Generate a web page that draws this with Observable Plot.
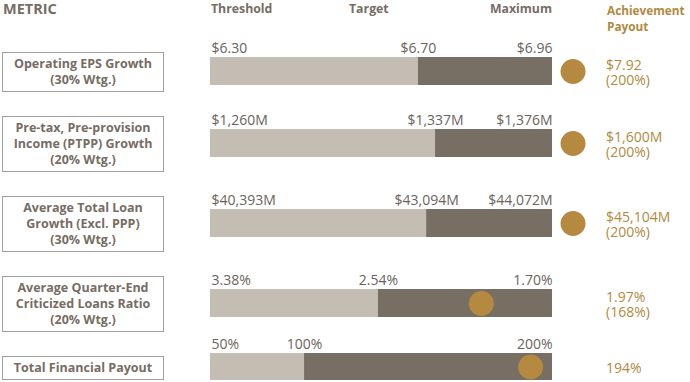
<!DOCTYPE html>
<html><head><meta charset="utf-8">
<script src="https://cdn.jsdelivr.net/npm/d3@7"></script>
<script src="https://cdn.jsdelivr.net/npm/@observablehq/plot@0.6"></script>
<style>
body{margin:0;background:#fff;}
#chart{position:relative;width:690px;height:382px;font-family:"Open Sans",sans-serif;overflow:hidden;}
.hdr{position:absolute;font-weight:700;font-size:12.3px;color:#766d65;line-height:17px;white-space:nowrap}
.row{position:relative;width:690px;}
.box{position:absolute;left:2px;width:160px;border:1px solid #a0a0a0;padding:3px 0;line-height:16px;font-weight:700;font-size:12.5px;color:#776c63;text-align:center;white-space:pre;}
.pay{position:absolute;left:606px;color:#b08a3e;font-size:14px;line-height:15.5px;display:flex;align-items:center;white-space:pre;}
.row svg{position:absolute;left:0;top:0;overflow:visible}
</style></head><body><div id="chart"></div>
<script>
const metricNames = ["Operating EPS Growth", "Pre-tax, Pre-provision\nIncome (PTPP) Growth", "Average Total Loan\nGrowth (Excl. PPP)", "Average Quarter-End\nCriticized Loans Ratio", "Total Financial Payout"];
const weights = ["30% Wtg.", "20% Wtg.", "30% Wtg.", "20% Wtg.", null];
const thresholdLabels = ["$6.30", "$1,260M", "$40,393M", "3.38%", "50%"];
const targetLabels = ["$6.70", "$1,337M", "$43,094M", "2.54%", "100%"];
const maximumLabels = ["$6.96", "$1,376M", "$44,072M", "1.70%", "200%"];
// share of the bar (threshold = 0, maximum = 1) as drawn in the picture
const targetShare = [0.608, 0.658, 0.632, 0.491, 0.275];
const achievedShare = [1.06, 1.06, 1.06, 0.792, 0.936];
const achievedValues = ["$7.92", "$1,600M", "$45,104M", "1.97%", "194%"];
const achievedPayouts = ["200%", "200%", "200%", "168%", null];
const headers = {metric: "METRIC", threshold: "Threshold", target: "Target", maximum: "Maximum", payout: "Achievement\nPayout"};

const chart = document.getElementById("chart");
const hdr = (text, css, color) => {
  const s = document.createElement("div");
  s.className = "hdr"; s.textContent = text; s.style.cssText += css;
  if (color) s.style.color = color;
  chart.appendChild(s);
};
const head = document.createElement("div");
head.style.cssText = "position:relative;height:28px;width:690px";
chart.appendChild(head);
hdr(headers.metric, "left:3px;top:0px;font-size:14.5px;");
hdr(headers.threshold, "left:211px;top:0px;");
hdr(headers.target, "left:349px;top:0px;");
hdr(headers.maximum, "right:138px;top:0px;");
hdr(headers.payout, "left:607px;top:2px;line-height:16px;white-space:pre;font-size:11.8px;", "#b08a3e");

const rows = metricNames.map((name, i) => ({
  name, weight: weights[i],
  thr: thresholdLabels[i], tgt: targetLabels[i], max: maximumLabels[i],
  target: targetShare[i], ach: achievedShare[i],
  value: achievedValues[i], payout: achievedPayouts[i]
}));

const LABEL_SPACE = 24;
const labelStyle = {frameAnchor: "top", dy: -14, fontSize: 14, fill: "#6b635c"};
for (const d of rows) {
  const lines = d.name.split("\n").length + (d.weight ? 1 : 0);
  const boxH = lines * 16 + 8;
  const H = boxH + LABEL_SPACE;
  const row = document.createElement("div");
  row.className = "row";
  row.style.height = H + "px";
  chart.appendChild(row);

  const mt = 9 + boxH / 2;
  const mb = Math.max(0, boxH / 2 - 13);
  const svg = Plot.plot({
    width: 690, height: H,
    marginLeft: 210, marginRight: 138, marginTop: mt, marginBottom: mb,
    x: {domain: [0, 1], axis: null},
    style: {fontFamily: "Open Sans", overflow: "visible", background: "transparent"},
    marks: [
      Plot.barX([d], {x1: () => 0, x2: r => r.target, fill: "#c4bdb4"}),
      Plot.barX([d], {x1: r => r.target, x2: () => 1, fill: "#776e64"}),
      Plot.text([d], {x: () => 0, text: r => r.thr, textAnchor: "start", dx: 1, ...labelStyle}),
      Plot.text([d], {x: r => r.target, text: r => r.tgt, textAnchor: "middle", ...labelStyle}),
      Plot.text([d], {x: () => 1, text: r => r.max, textAnchor: "end", ...labelStyle}),
      Plot.dot([d], {x: r => r.ach, r: 12.5, fill: "#b58a40", stroke: null})
    ]
  });
  row.appendChild(svg);

  const box = document.createElement("div");
  box.className = "box";
  box.style.top = LABEL_SPACE + "px";
  box.textContent = d.name + (d.weight ? "\n(" + d.weight + ")" : "");
  row.appendChild(box);

  const pay = document.createElement("div");
  pay.className = "pay";
  pay.style.top = LABEL_SPACE + "px";
  pay.style.height = boxH + "px";
  pay.textContent = d.value + (d.payout ? "\n(" + d.payout + ")" : "");
  row.appendChild(pay);
}
</script></body></html>
